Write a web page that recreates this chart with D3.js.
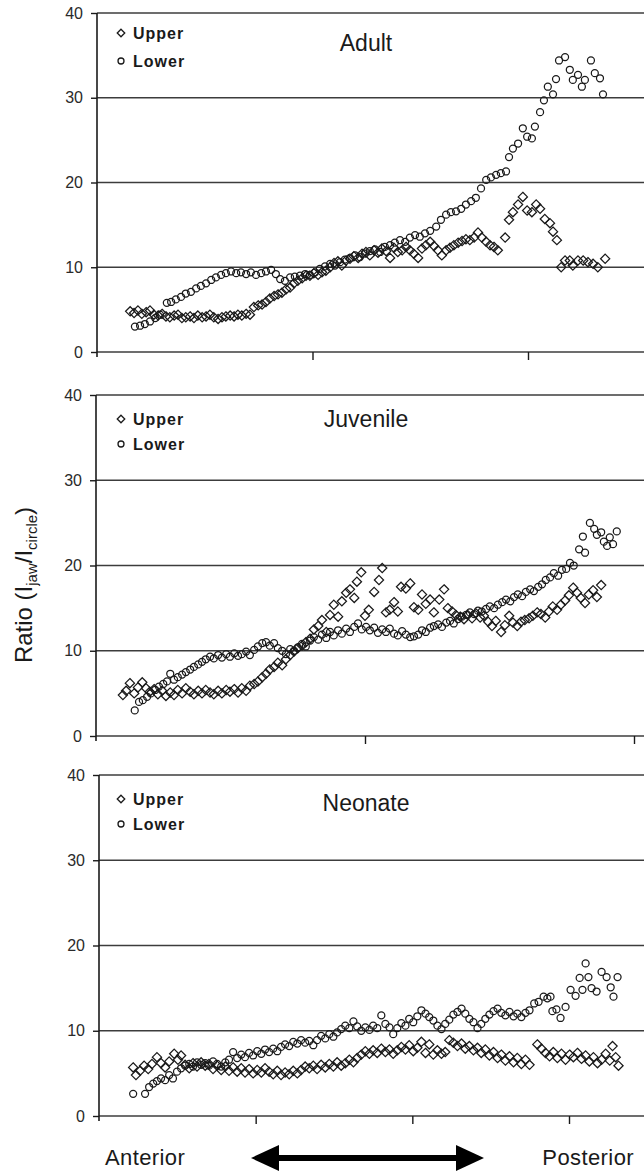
<!DOCTYPE html>
<html>
<head>
<meta charset="utf-8">
<script src="https://cdn.jsdelivr.net/npm/d3@7"></script>
<style>
  body { margin: 0; background: #fff; }
  svg { display: block; }
</style>
</head>
<body>
<svg id="chart" width="644" height="1173"></svg>
<script>
// ratio values: [position along jaw, ratio]
const yTicks = [0, 10, 20, 30, 40]

const adultUpper = [[7.7,4.8],[8.6,4.6],[9.5,4.9],[10.4,4.5],[11.4,4.7],[12.3,4.9],[13.2,4.4],[14.2,4.3],[15.1,4.5],[16.0,4.2],[16.9,4.1],[17.9,4.3],[18.8,4.4],[19.7,4.0],[20.6,4.1],[21.6,4.2],[22.5,4.0],[23.4,4.3],[24.4,4.1],[25.3,4.2],[26.2,4.4],[27.1,4.1],[28.1,3.9],[29.0,4.1],[29.9,4.2],[30.9,4.3],[31.8,4.2],[32.7,4.4],[33.6,4.3],[34.6,4.5],[35.5,4.4],[36.4,5.3],[37.4,5.5],[38.3,5.6],[39.2,5.9],[40.1,6.3],[41.1,6.6],[42.0,6.8],[42.9,7.0],[43.9,7.4],[44.8,7.6],[45.7,8.1],[46.6,8.4],[47.6,8.7],[48.5,9.0],[49.4,9.0],[50.3,9.3],[51.3,9.1],[52.2,9.4],[53.1,9.6],[54.1,10.0],[55.0,10.5],[55.9,10.7],[56.8,10.2],[57.8,10.8],[58.7,11.0],[59.6,11.3],[60.6,11.1],[61.5,11.6],[62.4,11.8],[63.3,11.4],[64.3,12.0],[65.2,11.7],[66.1,12.2],[67.1,11.9],[68.0,11.1],[68.9,12.3],[69.8,11.8],[70.8,12.0],[71.7,12.4],[72.6,12.0],[73.5,11.6],[74.5,11.1],[75.4,12.2],[76.3,12.6],[77.3,13.0],[78.2,12.5],[79.1,12.0],[80.0,11.4],[81.0,12.0],[81.9,12.3],[82.8,12.6],[83.8,12.9],[84.7,13.1],[85.6,13.3],[86.5,13.2],[87.5,13.5],[88.4,14.1],[89.3,13.5],[90.3,13.0],[91.2,12.6],[92.1,12.4],[93.0,12.0],[94.7,13.5],[95.6,15.6],[96.5,16.5],[97.7,17.4],[98.8,18.3],[99.8,16.7],[100.9,16.5],[101.9,17.4],[102.8,16.9],[103.9,15.7],[105.1,15.2],[105.8,14.2],[106.7,13.2],[107.7,10.0],[108.6,10.8],[109.7,10.8],[110.4,10.2],[111.6,10.8],[112.8,10.8],[113.9,10.6],[115.1,10.4],[116.2,10.0],[117.9,11.0]]

const adultLower = [[8.8,3.0],[10.0,3.1],[11.1,3.3],[12.3,3.6],[13.5,4.0],[14.6,4.4],[16.2,5.8],[17.2,5.9],[18.3,6.2],[19.5,6.5],[20.6,6.9],[21.8,7.1],[23.0,7.5],[24.1,7.8],[25.3,8.1],[26.5,8.5],[27.6,8.8],[28.8,9.1],[29.9,9.3],[31.1,9.5],[32.3,9.3],[33.4,9.4],[34.6,9.2],[35.7,9.4],[36.9,9.1],[38.1,9.3],[39.2,9.5],[40.4,9.7],[41.5,9.2],[42.5,8.6],[43.6,8.4],[44.8,8.8],[45.9,8.9],[47.1,9.0],[48.3,9.2],[49.4,9.1],[50.6,9.4],[51.7,9.8],[52.9,10.1],[54.1,10.4],[55.2,10.2],[56.4,10.6],[57.5,10.9],[58.7,11.1],[59.9,11.4],[61.0,11.2],[62.2,11.6],[63.3,11.9],[64.5,12.1],[65.7,11.8],[66.8,12.4],[68.0,12.6],[69.1,12.9],[70.3,13.2],[71.5,13.0],[72.6,13.5],[73.8,13.8],[74.9,13.6],[76.1,14.0],[77.3,14.3],[78.7,14.8],[79.8,15.6],[81.0,16.2],[82.1,16.5],[83.3,16.6],[84.5,16.9],[85.6,17.4],[86.8,17.8],[87.9,18.2],[89.1,19.3],[90.3,20.3],[91.4,20.6],[92.6,20.9],[93.7,21.1],[94.9,21.3],[95.6,23.0],[96.5,24.0],[97.7,24.6],[98.8,26.4],[99.8,25.4],[100.9,25.2],[101.6,26.6],[102.8,28.3],[103.7,29.7],[104.6,31.3],[105.8,30.4],[106.5,32.2],[107.2,34.4],[108.6,34.8],[109.7,33.3],[110.4,32.1],[111.6,32.7],[112.5,31.3],[113.2,32.1],[114.6,34.4],[115.5,32.9],[116.7,32.3],[117.4,30.4]]

const juvenileUpper = [[5.0,4.8],[5.6,5.3],[6.3,6.2],[7.1,5.0],[7.8,5.7],[8.6,6.3],[9.3,5.6],[10.0,5.2],[10.8,5.5],[11.5,4.9],[12.3,5.3],[13.0,4.7],[13.8,5.1],[14.5,4.8],[15.2,5.4],[16.0,5.0],[16.7,5.6],[17.5,5.2],[18.2,4.9],[19.0,5.3],[19.7,5.0],[20.4,5.4],[21.2,5.1],[21.9,4.9],[22.7,5.3],[23.4,5.0],[24.2,5.4],[24.9,5.2],[25.7,5.5],[26.4,5.1],[27.1,5.6],[27.9,5.3],[28.6,5.9],[29.4,6.1],[30.1,6.4],[30.9,6.9],[31.6,7.3],[32.3,7.8],[33.1,8.1],[33.8,8.6],[34.6,8.3],[35.3,9.0],[36.1,9.5],[36.8,9.9],[37.5,10.3],[38.3,10.6],[39.0,11.0],[39.8,11.4],[40.5,12.5],[41.3,12.9],[42.0,13.6],[42.8,12.2],[43.5,14.2],[44.2,15.4],[45.0,14.0],[45.7,15.8],[46.5,16.8],[47.2,17.2],[48.0,16.2],[48.5,18.1],[49.3,19.2],[50.0,14.1],[50.7,14.8],[51.7,16.9],[52.6,18.3],[53.2,19.7],[53.9,14.5],[54.6,14.8],[55.4,15.7],[56.1,14.6],[56.7,17.5],[57.6,17.3],[58.4,17.9],[59.1,15.1],[59.9,14.8],[60.6,16.6],[61.3,15.5],[62.1,16.0],[62.8,14.5],[63.8,16.0],[64.7,17.2],[65.4,15.0],[66.2,14.6],[66.9,14.2],[67.7,14.0],[68.4,13.7],[69.1,14.2],[69.9,13.8],[70.6,14.4],[71.4,13.9],[72.1,14.1],[72.9,13.4],[73.6,12.9],[74.3,13.5],[75.3,12.2],[76.0,13.0],[76.8,14.1],[77.5,13.3],[78.3,12.9],[79.0,13.4],[79.7,13.6],[80.5,13.8],[81.2,14.1],[82.0,14.5],[82.7,14.3],[83.5,13.9],[84.2,14.6],[84.9,15.2],[85.7,14.8],[86.4,15.4],[87.2,15.9],[87.9,16.5],[88.7,17.4],[89.4,16.8],[90.1,16.2],[90.9,15.6],[91.6,16.6],[92.4,17.1],[93.1,16.3],[93.9,17.7]]

const juvenileLower = [[7.2,3.0],[8.0,4.0],[8.7,4.2],[9.5,4.6],[10.2,5.0],[11.0,5.4],[11.7,5.8],[12.5,6.1],[13.2,6.4],[13.8,7.3],[14.5,6.6],[15.2,6.9],[16.0,7.2],[16.7,7.5],[17.5,7.8],[18.2,8.1],[19.0,8.4],[19.7,8.7],[20.4,9.0],[21.2,9.3],[21.9,9.1],[22.7,9.5],[23.4,9.2],[24.2,9.6],[24.9,9.3],[25.7,9.7],[26.4,9.4],[27.1,9.6],[27.9,9.9],[28.6,9.5],[29.4,10.1],[30.1,10.5],[30.9,10.9],[31.6,11.0],[32.3,10.6],[33.1,10.9],[33.8,10.3],[34.6,10.0],[35.3,9.6],[36.1,10.2],[36.8,10.0],[37.5,10.4],[38.3,10.8],[39.0,10.5],[39.8,11.2],[40.5,11.6],[41.3,11.3],[42.0,11.9],[42.8,11.5],[43.5,12.2],[44.2,11.8],[45.0,12.4],[45.7,12.0],[46.5,12.6],[47.2,12.2],[48.0,12.8],[48.7,13.2],[49.4,12.5],[50.2,12.8],[50.9,12.4],[51.7,12.7],[52.4,12.1],[53.2,12.5],[53.9,12.2],[54.6,12.6],[55.4,12.0],[56.1,11.8],[56.9,12.3],[57.6,11.9],[58.4,11.6],[59.1,11.7],[59.9,11.9],[60.6,12.4],[61.3,12.2],[62.1,12.7],[62.8,12.9],[63.6,13.1],[64.3,12.8],[65.1,13.3],[65.8,13.5],[66.5,13.2],[67.3,13.7],[68.0,14.0],[68.8,14.2],[69.5,14.5],[70.3,14.3],[71.0,14.7],[71.7,14.6],[72.5,14.9],[73.2,15.2],[74.0,15.0],[74.7,15.4],[75.5,15.7],[76.2,16.0],[77.0,15.8],[77.7,16.3],[78.4,16.6],[79.2,16.4],[79.9,16.9],[80.7,17.2],[81.4,17.0],[82.2,17.5],[82.9,17.8],[83.6,18.3],[84.4,18.6],[85.1,19.1],[85.9,18.8],[86.6,19.5],[87.4,19.6],[88.1,20.3],[88.8,20.0],[89.8,21.9],[90.5,23.4],[90.9,21.5],[91.8,25.0],[92.6,24.3],[93.1,23.6],[93.9,23.9],[94.4,22.8],[95.0,22.3],[95.5,23.3],[96.1,22.5],[96.8,24.0]]

const neonateUpper = [[10.9,5.7],[11.8,4.8],[13.1,5.3],[14.4,5.9],[15.7,5.5],[16.9,6.1],[18.5,6.9],[19.8,6.2],[21.1,5.7],[22.4,6.4],[24.0,7.3],[25.2,6.6],[26.2,7.1],[27.5,6.0],[28.8,5.6],[30.0,6.2],[31.3,5.8],[32.6,6.3],[33.9,5.9],[35.1,6.1],[36.4,5.5],[37.7,5.9],[39.0,5.4],[40.3,5.8],[41.5,5.3],[42.8,5.7],[44.1,5.2],[45.4,5.6],[46.6,5.1],[47.9,5.5],[49.2,5.0],[50.5,5.4],[51.8,5.1],[53.0,5.6],[54.3,5.2],[55.6,4.9],[56.9,5.3],[58.1,4.8],[59.4,5.1],[60.7,4.9],[62.0,5.3],[63.3,5.0],[64.5,5.4],[65.8,5.8],[67.1,5.6],[68.4,5.9],[69.6,5.5],[70.9,6.0],[72.2,5.7],[73.5,6.1],[74.8,5.8],[76.0,6.3],[77.3,5.9],[78.6,6.2],[79.9,6.6],[81.2,6.3],[82.4,6.8],[83.7,7.2],[85.0,7.6],[86.3,7.3],[87.5,7.7],[88.8,7.4],[90.1,7.9],[91.4,7.5],[92.7,7.8],[93.9,7.3],[95.2,7.7],[96.5,8.1],[97.8,7.8],[99.0,8.3],[100.3,7.6],[101.6,8.0],[102.9,8.7],[104.2,7.4],[105.4,8.4],[106.7,7.2],[108.0,7.7],[109.3,7.3],[110.5,7.5],[111.8,8.9],[113.1,8.6],[114.4,8.2],[115.7,8.5],[116.9,7.9],[118.2,8.2],[119.5,7.7],[120.8,8.0],[122.0,7.4],[123.3,7.8],[124.6,7.1],[125.9,7.5],[127.2,6.8],[128.4,7.2],[129.7,6.5],[131.0,7.0],[132.3,6.3],[133.5,6.8],[134.8,6.1],[136.1,6.6],[137.4,6.0],[139.9,8.4],[141.2,7.9],[142.5,7.4],[143.8,7.0],[145.0,7.5],[146.3,6.8],[147.6,7.3],[148.9,6.6],[150.2,7.2],[151.4,6.9],[152.7,7.4],[154.0,6.7],[155.3,7.1],[156.5,6.4],[157.8,6.9],[159.1,6.2],[160.4,6.6],[161.7,7.3],[163.0,6.5],[163.9,8.2],[164.9,6.9],[165.8,5.9]]

const neonateLower = [[10.9,2.6],[14.7,2.6],[16.0,3.4],[17.3,3.8],[18.5,4.1],[19.8,4.4],[21.1,4.2],[22.4,4.8],[23.6,4.4],[24.9,5.2],[26.2,5.6],[27.5,5.9],[28.8,6.1],[30.0,5.8],[31.3,6.3],[32.6,6.0],[33.9,6.2],[35.1,5.9],[36.4,6.4],[37.7,6.1],[39.0,5.8],[40.3,6.3],[41.5,6.6],[42.8,7.5],[44.1,6.8],[45.4,7.2],[46.6,6.9],[47.9,7.4],[49.2,7.1],[50.5,7.6],[51.8,7.3],[53.0,7.8],[54.3,7.5],[55.6,7.9],[56.9,7.6],[58.1,8.1],[59.4,8.4],[60.7,8.2],[62.0,8.7],[63.3,8.5],[64.5,8.9],[65.8,8.6],[67.1,8.8],[68.4,8.3],[69.6,8.9],[70.9,9.4],[72.2,9.1],[73.5,9.6],[74.8,9.3],[76.0,9.8],[77.3,10.2],[78.6,10.6],[79.9,10.3],[81.2,11.1],[82.4,10.5],[83.7,10.0],[85.0,10.4],[86.3,10.1],[87.5,10.6],[88.8,10.3],[90.1,11.8],[91.4,10.8],[92.7,10.4],[93.9,9.6],[95.2,10.3],[96.5,10.9],[97.8,10.6],[99.0,11.4],[100.3,11.0],[101.6,11.7],[102.9,12.4],[104.2,12.0],[105.4,11.6],[106.7,11.2],[108.0,10.6],[109.3,10.2],[110.5,10.8],[111.8,11.3],[113.1,11.9],[114.4,12.2],[115.7,12.6],[116.9,12.0],[118.2,11.4],[119.5,11.0],[120.8,10.3],[122.0,10.8],[123.3,11.4],[124.6,11.9],[125.9,12.3],[127.2,12.6],[128.4,12.1],[129.7,11.8],[131.0,12.2],[132.3,11.7],[133.5,12.0],[134.8,11.6],[136.1,12.1],[137.4,12.4],[138.9,13.2],[140.3,13.4],[141.9,14.0],[143.1,13.8],[144.1,14.0],[144.7,12.3],[146.0,12.5],[147.3,11.5],[148.9,12.8],[150.5,14.8],[152.1,14.1],[153.4,16.2],[154.3,14.8],[155.3,17.9],[156.2,16.3],[157.2,15.0],[158.8,14.6],[160.4,16.9],[162.0,16.3],[163.3,15.1],[164.2,14.0],[165.5,16.3]]

const panels = [
  { title: 'Adult', upper: adultUpper, lower: adultLower, xDomain: [0, 100], xTicks: [50, 100],
    left: 97, xEnd: 528, top: 13, bottom: 352, legendY: [33, 61], titleY: 51 },
  { title: 'Juvenile', upper: juvenileUpper, lower: juvenileLower, xDomain: [0, 100], xTicks: [50, 100],
    left: 96, xEnd: 634, top: 395, bottom: 736, legendY: [419, 444], titleY: 427 },
  { title: 'Neonate', upper: neonateUpper, lower: neonateLower, xDomain: [0, 150], xTicks: [50, 100, 150],
    left: 99, xEnd: 569, top: 775, bottom: 1116, legendY: [799, 824], titleY: 811 },
]

const width = 644
const height = 1173
const ink = '#1a1a1a'
const font = 'Liberation Sans, Arial, Helvetica, sans-serif'

const svg = d3.select('#chart')

svg.append('rect')
  .attr('width', width)
  .attr('height', height)
  .attr('fill', '#fff')

const diamond = d3.symbol().type(d3.symbolDiamond2).size(54)

panels.forEach((p) => {
  const x = d3.scaleLinear().domain(p.xDomain).range([p.left, p.xEnd])
  const y = d3.scaleLinear().domain([0, 40]).range([p.bottom, p.top])

  const g = svg.append('g').attr('class', 'panel')

  // horizontal gridlines (run off the right edge)
  g.append('g')
    .selectAll('line')
    .data(yTicks)
    .join('line')
    .attr('x1', p.left)
    .attr('x2', width)
    .attr('y1', (d) => y(d))
    .attr('y2', (d) => y(d))
    .attr('stroke', '#3c3c3c')
    .attr('stroke-width', 1.7)

  // y axis
  const yAxis = g.append('g')
    .attr('transform', `translate(${p.left},0)`)
    .call(d3.axisLeft(y).tickValues(yTicks).tickSize(6).tickPadding(8).tickSizeOuter(0))
  yAxis.select('.domain').remove()
  yAxis.selectAll('.tick line').attr('stroke', ink).attr('stroke-width', 1.4)
  yAxis.selectAll('.tick text')
    .attr('font-family', font)
    .attr('font-size', 16)
    .attr('fill', '#2a2a2a')

  g.append('line')
    .attr('x1', p.left)
    .attr('x2', p.left)
    .attr('y1', y(40))
    .attr('y2', y(0) + 5)
    .attr('stroke', ink)
    .attr('stroke-width', 1.6)

  // x ticks below the axis
  const xAxis = g.append('g')
    .attr('transform', `translate(0,${p.bottom})`)
    .call(d3.axisBottom(x).tickValues(p.xTicks).tickSize(8).tickFormat(''))
  xAxis.select('.domain').remove()
  xAxis.selectAll('.tick line').attr('stroke', ink).attr('stroke-width', 1.4)

  // markers
  g.append('g')
    .selectAll('path')
    .data(p.upper)
    .join('path')
    .attr('d', diamond)
    .attr('transform', (d) => `translate(${x(d[0])},${y(d[1])})`)
    .attr('fill', 'none')
    .attr('stroke', ink)
    .attr('stroke-width', 1.25)

  g.append('g')
    .selectAll('circle')
    .data(p.lower)
    .join('circle')
    .attr('cx', (d) => x(d[0]))
    .attr('cy', (d) => y(d[1]))
    .attr('r', 3.5)
    .attr('fill', 'none')
    .attr('stroke', ink)
    .attr('stroke-width', 1.25)

  // legend
  const lg = g.append('g')
  lg.append('path')
    .attr('d', d3.symbol().type(d3.symbolDiamond2).size(36))
    .attr('transform', `translate(121,${p.legendY[0]})`)
    .attr('fill', 'none')
    .attr('stroke', ink)
    .attr('stroke-width', 1.3)
  lg.append('circle')
    .attr('cx', 121)
    .attr('cy', p.legendY[1])
    .attr('r', 3)
    .attr('fill', 'none')
    .attr('stroke', ink)
    .attr('stroke-width', 1.3)
  lg.selectAll('text')
    .data(['Upper', 'Lower'])
    .join('text')
    .attr('x', 133)
    .attr('y', (d, i) => p.legendY[i] + 6)
    .attr('font-family', font)
    .attr('font-weight', 'bold')
    .attr('font-size', 16)
    .attr('letter-spacing', 1)
    .attr('fill', ink)
    .text((d) => d)

  // panel title
  g.append('text')
    .attr('x', 366)
    .attr('y', p.titleY)
    .attr('text-anchor', 'middle')
    .attr('font-family', font)
    .attr('font-size', 23)
    .attr('fill', ink)
    .text(p.title)
})

// y axis title
const yLabel = svg.append('text')
  .attr('transform', 'translate(32,585) rotate(-90)')
  .attr('text-anchor', 'middle')
  .attr('font-family', font)
  .attr('font-size', 24)
  .attr('fill', ink)
yLabel.append('tspan').text('Ratio (I')
yLabel.append('tspan').attr('dy', 5).attr('font-size', 15).text('jaw')
yLabel.append('tspan').attr('dy', -5).text('/I')
yLabel.append('tspan').attr('dy', 5).attr('font-size', 15).text('circle')
yLabel.append('tspan').attr('dy', -5).text(')')

// bottom direction labels
svg.append('text')
  .attr('x', 105)
  .attr('y', 1165)
  .attr('font-family', font)
  .attr('font-size', 22)
  .attr('letter-spacing', 0.4)
  .attr('fill', ink)
  .text('Anterior')

svg.append('text')
  .attr('x', 634)
  .attr('y', 1165)
  .attr('text-anchor', 'end')
  .attr('font-family', font)
  .attr('font-size', 22)
  .attr('letter-spacing', 0.4)
  .attr('fill', ink)
  .text('Posterior')

// double-headed arrow
const arrowY = 1158
svg.append('line')
  .attr('x1', 275)
  .attr('x2', 460)
  .attr('y1', arrowY)
  .attr('y2', arrowY)
  .attr('stroke', '#000')
  .attr('stroke-width', 6)

svg.append('path')
  .attr('d', d3.line()([[251, arrowY], [279, arrowY - 13], [279, arrowY + 13]]) + 'Z')
  .attr('fill', '#000')
svg.append('path')
  .attr('d', d3.line()([[484, arrowY], [456, arrowY - 13], [456, arrowY + 13]]) + 'Z')
  .attr('fill', '#000')
</script>
</body>
</html>
